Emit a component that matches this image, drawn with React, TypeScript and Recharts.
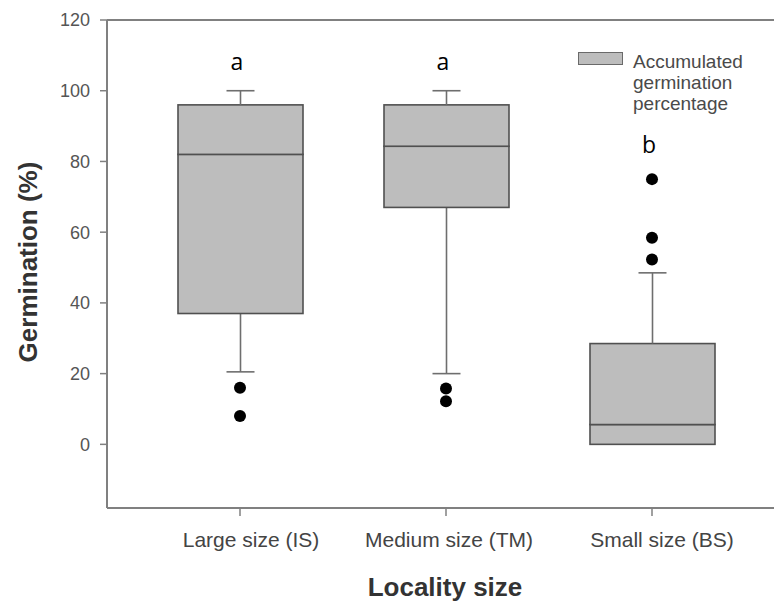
import React from 'react';
import { ComposedChart, Bar, Scatter, XAxis, YAxis, ReferenceLine, Legend } from 'recharts';

const categories = ['Large size (IS)', 'Medium size (TM)', 'Small size (BS)'];
const whiskerLow = [20.5, 20, 0];
const q1 = [37, 67, 0];
const median = [82, 84.3, 5.6];
const q3 = [96, 96, 28.5];
const whiskerHigh = [100, 100, 48.5];
const outliers1 = [16, 15.8, 75];
const outliers2 = [8, 12.2, 58.4];
const outliers3: (number | null)[] = [null, null, 52.3];
const groupLetters = ['a', 'a', 'b'];
const letterPos = [106, 106, 82.4];
const yTicks = [0, 20, 40, 60, 80, 100, 120];
const legendLines = ['Accumulated', 'germination', 'percentage'];

const data = categories.map((name, i) => ({
  name,
  base: whiskerLow[i],
  lowW: q1[i] - whiskerLow[i],
  lowBox: median[i] - q1[i],
  highBox: q3[i] - median[i],
  highW: whiskerHigh[i] - q3[i],
  o1: outliers1[i],
  o2: outliers2[i],
  o3: outliers3[i],
  letter: groupLetters[i],
  letterY: letterPos[i],
}));

const FONT = '"Liberation Sans", Arial, Helvetica, sans-serif';
const AXIS = '#808080';
const BOX_FILL = '#bdbdbd';
const BOX_STROKE = '#505050';
const WHISK = '#6e6e6e';
const TICK_SHIFT = [11, 3, 10];

const Empty = () => <g />;

const BoxShape = (p: any) => {
  const { x, y, width, height } = p;
  if (!height || height <= 0) return <g />;
  return <rect x={x} y={y} width={width} height={height} fill={BOX_FILL} stroke={BOX_STROKE} strokeWidth={1.6} />;
};

const HighWhisker = (p: any) => {
  const { x, y, width, height } = p;
  if (!height || height <= 0) return <g />;
  const cx = x + width / 2;
  return (
    <g stroke={WHISK} strokeWidth={1.6}>
      <line x1={cx} x2={cx} y1={y + height} y2={y} />
      <line x1={cx - 14} x2={cx + 14} y1={y} y2={y} />
    </g>
  );
};

const LowWhisker = (p: any) => {
  const { x, y, width, height } = p;
  if (!height || height <= 0) return <g />;
  const cx = x + width / 2;
  return (
    <g stroke={WHISK} strokeWidth={1.6}>
      <line x1={cx} x2={cx} y1={y} y2={y + height} />
      <line x1={cx - 14} x2={cx + 14} y1={y + height} y2={y + height} />
    </g>
  );
};

const makeDot = (key: string) => (p: any) => {
  const { cx, cy, payload } = p;
  if (payload == null || payload[key] == null || cx == null || cy == null || isNaN(cy)) return <g />;
  return <circle cx={cx} cy={cy} r={6} fill="#000" />;
};

const LetterShape = (p: any) => {
  const { cx, cy, payload } = p;
  if (cx == null || cy == null) return <g />;
  return (
    <text x={cx - 3} y={cy} textAnchor="middle" fontFamily='"Open Sans", "DejaVu Sans", sans-serif' fontSize={23} fill="#000">
      {payload.letter}
    </text>
  );
};

const XTick = (p: any) => {
  const { x, y, payload, index } = p;
  return (
    <text x={x + (TICK_SHIFT[index] || 0)} y={y} dy="0.71em" textAnchor="middle" fill="#444" fontSize={21} fontFamily={FONT}>
      {payload.value}
    </text>
  );
};

const renderLegend = () => (
  <div style={{ display: 'flex', alignItems: 'flex-start', fontFamily: FONT, fontSize: 19, color: '#4a4a4a' }}>
    <div style={{ width: 45, height: 13, background: BOX_FILL, border: '1.5px solid #6a6a6a', boxSizing: 'border-box', marginTop: 1 }} />
    <div style={{ marginLeft: 10, lineHeight: '21px' }}>
      {legendLines.map((l) => (
        <div key={l}>{l}</div>
      ))}
    </div>
  </div>
);

export default function App() {
  return (
    <div style={{ position: 'absolute', left: 0, top: 0, width: 774, height: 601, background: '#fff' }}>
      <ComposedChart width={774} height={601} data={data} margin={{ top: 20, right: 0, left: 7, bottom: 33 }}>
        <XAxis
          dataKey="name"
          type="category"
          height={60}
          padding={{ left: 30, right: 19 }}
          axisLine={{ stroke: AXIS, strokeWidth: 2 }}
          tickLine={{ stroke: AXIS, strokeWidth: 1.5 }}
          tickSize={8}
          tickMargin={16}
          tick={<XTick />}
          interval={0}
        />
        <YAxis
          type="number"
          domain={[-18, 120]}
          ticks={yTicks}
          width={100}
          allowDataOverflow
          axisLine={{ stroke: AXIS, strokeWidth: 2 }}
          tickLine={{ stroke: AXIS, strokeWidth: 1.5 }}
          tickSize={7}
          tickMargin={10}
          tick={{ fill: '#555', fontSize: 18, fontFamily: FONT }}
        />
        <ReferenceLine y={120} stroke={AXIS} strokeWidth={2} ifOverflow="visible" />
        <Bar dataKey="base" stackId="b" barSize={125} fill="transparent" shape={Empty} isAnimationActive={false} legendType="none" />
        <Bar dataKey="lowW" stackId="b" barSize={125} shape={LowWhisker} isAnimationActive={false} legendType="none" />
        <Bar dataKey="lowBox" stackId="b" barSize={125} shape={BoxShape} isAnimationActive={false} legendType="none" />
        <Bar dataKey="highBox" stackId="b" barSize={125} shape={BoxShape} isAnimationActive={false} legendType="none" />
        <Bar dataKey="highW" stackId="b" barSize={125} shape={HighWhisker} isAnimationActive={false} legendType="none" />
        <Scatter dataKey="o1" shape={makeDot('o1')} isAnimationActive={false} legendType="none" />
        <Scatter dataKey="o2" shape={makeDot('o2')} isAnimationActive={false} legendType="none" />
        <Scatter dataKey="o3" shape={makeDot('o3')} isAnimationActive={false} legendType="none" />
        <Scatter dataKey="letterY" shape={LetterShape} isAnimationActive={false} legendType="none" />
        <Legend
          layout="horizontal"
          verticalAlign="middle"
          align="center"
          content={renderLegend}
          wrapperStyle={{ position: 'absolute', left: 578, top: 51, width: 195 }}
        />
      </ComposedChart>
      <div
        style={{
          position: 'absolute',
          left: 28,
          top: 262,
          transform: 'translate(-50%, -50%) rotate(-90deg)',
          whiteSpace: 'nowrap',
          fontFamily: FONT,
          fontWeight: 'bold',
          fontSize: 26,
          lineHeight: '26px',
          color: '#333',
        }}
      >
        Germination (%)
      </div>
      <div
        style={{
          position: 'absolute',
          left: 445,
          top: 574,
          transform: 'translateX(-50%)',
          whiteSpace: 'nowrap',
          fontFamily: FONT,
          fontWeight: 'bold',
          fontSize: 26,
          lineHeight: '26px',
          color: '#333',
        }}
      >
        Locality size
      </div>
    </div>
  );
}
